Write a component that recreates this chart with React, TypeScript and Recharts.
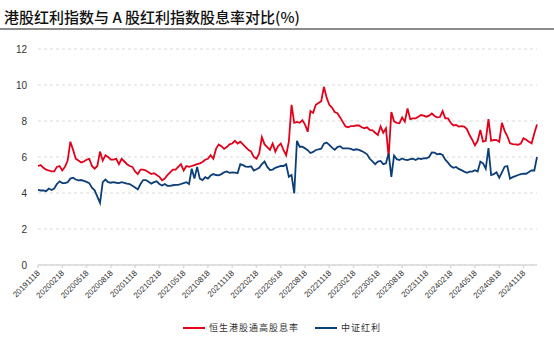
import React from 'react';
import { LineChart, Line, XAxis, YAxis, CartesianGrid } from 'recharts';

// 恒生港股通高股息率, sampled on the 18th / 28th / 08th of each month from 20191118
const RED = [
  5.5, 5.55, 5.4, 5.3, 5.25, 5.2, 5.2, 5.45, 5.5, 5.25,
  5.45, 5.8, 6.85, 6.4, 5.9, 5.8, 5.7, 5.75, 5.85, 5.9,
  5.5, 5.35, 5.5, 6.3, 5.8, 6.1, 6.0, 5.85, 5.85, 5.9,
  5.6, 5.9, 5.75, 5.6, 5.5, 5.45, 5.2, 5.05, 5.3, 5.3,
  5.25, 5.15, 5.05, 5.1, 5.0, 4.9, 4.7, 4.8, 5.0, 5.15,
  5.3, 5.3, 5.45, 5.6, 5.25, 5.5, 5.45, 5.5, 5.55, 5.6,
  5.65, 5.72, 5.85, 5.9, 6.1, 5.9, 6.45, 6.7, 6.6, 6.45,
  6.55, 6.7, 6.75, 6.9, 6.75, 6.85, 6.7, 6.55, 6.4, 6.3,
  6.0, 5.9, 6.2, 7.1, 6.7, 6.55, 6.4, 6.75, 6.3, 6.6,
  6.75, 6.4, 6.1, 6.85, 8.9, 7.9, 7.95, 7.9, 8.05, 7.8,
  7.4, 8.55, 8.45, 8.9, 9.0, 9.1, 9.9, 9.3, 8.9, 8.75,
  8.5, 8.43, 8.2, 7.95, 7.7, 7.65, 7.72, 7.72, 7.76, 7.75,
  7.65, 7.6, 7.65, 7.5, 7.48, 7.35, 7.22, 7.7, 7.35, 7.6,
  6.0, 8.5, 7.98, 7.9, 7.87, 8.2, 7.96, 8.7, 8.1, 8.15,
  8.15, 8.24, 8.33, 8.3, 8.24, 8.3, 8.42, 8.28, 8.2, 8.22,
  8.55, 8.15, 8.15, 7.9, 7.75, 7.78, 7.69, 7.71, 7.69, 7.55,
  7.22, 6.95, 6.65, 6.9, 7.5, 6.85, 6.9, 8.1, 6.9, 6.95,
  6.94, 6.85, 7.9, 7.45, 7.15, 6.76, 6.72, 6.7, 6.68, 6.75,
  7.04, 6.96, 6.85, 6.76, 7.3, 7.8,
];

// 中证红利
const BLUE = [
  4.17, 4.14, 4.15, 4.1, 4.25, 4.17, 4.25, 4.5, 4.65, 4.55,
  4.55, 4.6, 4.8, 4.85, 4.75, 4.7, 4.72, 4.67, 4.62, 4.55,
  4.3, 4.15, 3.8, 3.45, 4.6, 4.75, 4.6, 4.57, 4.6, 4.57,
  4.55, 4.6, 4.56, 4.52, 4.5, 4.4, 4.3, 4.2, 4.5, 4.72,
  4.72, 4.62, 4.52, 4.6, 4.65, 4.5, 4.42, 4.5, 4.4, 4.4,
  4.43, 4.45, 4.45, 4.5, 4.55, 4.6, 4.5, 5.35, 4.8, 5.45,
  4.8, 4.72, 4.88, 4.8, 4.97, 5.05, 5.0, 4.98, 5.05, 5.15,
  5.2, 5.12, 5.15, 5.13, 5.1, 5.6, 5.55, 5.47, 5.45, 5.48,
  5.25, 5.32, 5.4, 5.6, 5.75, 5.45, 5.28, 5.3, 5.4, 5.45,
  5.5, 5.5, 5.6, 4.9, 5.0, 3.98, 6.9, 6.57, 6.57, 6.48,
  6.38, 6.22, 6.28, 6.39, 6.42, 6.46, 6.74, 6.8, 6.67, 6.52,
  6.4, 6.55, 6.6, 6.48, 6.48, 6.48, 6.45, 6.39, 6.43, 6.39,
  6.33, 6.25, 6.15, 5.9, 5.76, 5.6, 5.74, 5.78, 5.6, 5.65,
  6.2, 4.9, 6.08, 5.88, 5.83, 5.92, 5.86, 5.83, 5.88, 5.9,
  5.83, 5.92, 5.89, 5.92, 5.93, 6.0, 6.25, 6.24, 6.15, 6.18,
  6.11, 5.85, 5.69, 5.5, 5.4, 5.45, 5.34, 5.27, 5.19, 5.12,
  5.19, 5.19, 5.27, 5.2, 5.74, 5.65, 5.35, 6.5, 5.0, 5.05,
  5.15, 4.85, 5.15, 5.46, 5.5, 4.8, 4.88, 4.94, 5.0, 5.05,
  5.08, 5.07, 5.17, 5.26, 5.25, 6.0,
];

const Y_TICKS = [0, 2, 4, 6, 8, 10, 12];
const DAY_CYCLE = ['18', '28', '08'];

const SERIES = [
  { key: 'hs', name: '恒生港股通高股息率', color: '#e2001a' },
  { key: 'zz', name: '中证红利', color: '#0c3f78' },
];

const TITLE = '港股红利指数与 A 股红利指数股息率对比(%)';

// date labels: three samples a month starting 2019-11-18
const dateAt = (i: number) => {
  const offset = i % 3 === 2 ? (i + 1) / 3 : Math.floor(i / 3);
  const m0 = 10 + offset;
  const y = 2019 + Math.floor(m0 / 12);
  const m = (m0 % 12) + 1;
  return `${y}${String(m).padStart(2, '0')}${DAY_CYCLE[i % 3]}`;
};

const data = RED.map((v, i) => ({ date: dateAt(i), hs: v, zz: BLUE[i] }));

const XTick = (props: any) => {
  const { x, y, payload } = props;
  const px = x + 2.5;
  const py = y + 3.5;
  return (
    <text
      x={px}
      y={py}
      transform={`rotate(-45 ${px} ${py})`}
      textAnchor="end"
      fontSize={8}
      fill="#333"
      fontFamily="'Liberation Sans', Arial, sans-serif"
    >
      {payload.value}
    </text>
  );
};

export default function App() {
  return (
    <div style={{ position: 'fixed', left: 0, top: 0, width: 554, height: 362, background: '#fff' }}>
      <div
        style={{
          position: 'absolute',
          left: 4,
          top: 9,
          fontSize: 15,
          fontWeight: 500,
          lineHeight: '16px',
          color: '#111',
          fontFamily: "'Noto Sans CJK SC', sans-serif",
          whiteSpace: 'nowrap',
        }}
      >
        {TITLE}
      </div>
      <div style={{ position: 'absolute', left: 0, top: 27.5, width: 554, height: 2, background: '#8c8c8c' }} />

      <div style={{ position: 'absolute', left: 0, top: 0 }}>
        <LineChart width={554} height={362} data={data} margin={{ top: 49, right: 17, bottom: 47, left: 0 }}>
          <CartesianGrid vertical={false} stroke="#d9d9d9" strokeDasharray="3 3" />
          <XAxis
            dataKey="date"
            interval={8}
            height={50}
            tickSize={3}
            tickMargin={2}
            stroke="#d9d9d9"
            strokeWidth={1.5}
            tick={<XTick />}
          />
          <YAxis
            domain={[0, 12]}
            ticks={Y_TICKS}
            width={38}
            axisLine={false}
            tickLine={false}
            tickMargin={5}
            tick={{ fontSize: 10, fill: '#333', fontFamily: "'Liberation Sans', Arial, sans-serif" }}
          />
          {SERIES.map((s) => (
            <Line
              key={s.key}
              type="linear"
              dataKey={s.key}
              name={s.name}
              stroke={s.color}
              strokeWidth={1.8}
              dot={false}
              isAnimationActive={false}
            />
          ))}
        </LineChart>
      </div>

      <div
        style={{
          position: 'absolute',
          left: 183,
          top: 321,
          display: 'flex',
          alignItems: 'center',
          gap: 16,
          fontSize: 9,
          letterSpacing: 1,
          color: '#333',
          fontFamily: "'Noto Sans CJK SC', sans-serif",
        }}
      >
        {SERIES.map((s) => (
          <div key={s.key} style={{ display: 'flex', alignItems: 'center' }}>
            <div style={{ width: 22, height: 2, background: s.color, marginRight: 4 }} />
            <span>{s.name}</span>
          </div>
        ))}
      </div>
    </div>
  );
}
